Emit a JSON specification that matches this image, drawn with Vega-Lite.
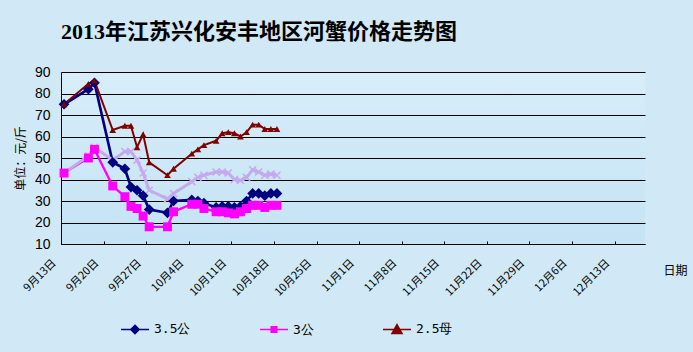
{
  "$schema": "https://vega.github.io/schema/vega-lite/v6.json",
  "width": 584,
  "height": 172,
  "autosize": "none",
  "padding": {"left": 61, "top": 72, "right": 48, "bottom": 108},
  "background": "#D1E9F7",
  "title": {
    "text": "2013年江苏兴化安丰地区河蟹价格走势图",
    "anchor": "start",
    "frame": "group",
    "font": "Liberation Serif, Noto Sans CJK SC",
    "fontSize": 22,
    "fontWeight": "bold",
    "color": "black",
    "baseline": "alphabetic",
    "offset": 4
  },
  "config": {
    "view": {"stroke": null, "fill": {"gradient": "linear", "x1": 0, "y1": 0, "x2": 0, "y2": 1, "stops": [{"offset": 0, "color": "#D8EDF9"}, {"offset": 1, "color": "#C4E3F4"}]}}
  },
  "data": {
    "values": [
      {"date": "2013-09-13", "series": "3.5公", "value": 75},
      {"date": "2013-09-17", "series": "3.5公", "value": 82},
      {"date": "2013-09-18", "series": "3.5公", "value": 85},
      {"date": "2013-09-21", "series": "3.5公", "value": 48},
      {"date": "2013-09-23", "series": "3.5公", "value": 45},
      {"date": "2013-09-24", "series": "3.5公", "value": 36.5},
      {"date": "2013-09-25", "series": "3.5公", "value": 35},
      {"date": "2013-09-26", "series": "3.5公", "value": 32.5},
      {"date": "2013-09-27", "series": "3.5公", "value": 26},
      {"date": "2013-09-30", "series": "3.5公", "value": 24.5},
      {"date": "2013-10-01", "series": "3.5公", "value": 30},
      {"date": "2013-10-04", "series": "3.5公", "value": 30.5},
      {"date": "2013-10-05", "series": "3.5公", "value": 30},
      {"date": "2013-10-06", "series": "3.5公", "value": 29},
      {"date": "2013-10-08", "series": "3.5公", "value": 27},
      {"date": "2013-10-09", "series": "3.5公", "value": 27.5},
      {"date": "2013-10-10", "series": "3.5公", "value": 27.5},
      {"date": "2013-10-11", "series": "3.5公", "value": 27},
      {"date": "2013-10-12", "series": "3.5公", "value": 27.5},
      {"date": "2013-10-13", "series": "3.5公", "value": 30},
      {"date": "2013-10-14", "series": "3.5公", "value": 33.5},
      {"date": "2013-10-15", "series": "3.5公", "value": 33.5},
      {"date": "2013-10-16", "series": "3.5公", "value": 32.5},
      {"date": "2013-10-17", "series": "3.5公", "value": 33.5},
      {"date": "2013-10-18", "series": "3.5公", "value": 33.5},

      {"date": "2013-09-13", "series": "3公", "value": 43},
      {"date": "2013-09-17", "series": "3公", "value": 50},
      {"date": "2013-09-18", "series": "3公", "value": 54},
      {"date": "2013-09-21", "series": "3公", "value": 37},
      {"date": "2013-09-23", "series": "3公", "value": 32},
      {"date": "2013-09-24", "series": "3公", "value": 27.5},
      {"date": "2013-09-25", "series": "3公", "value": 26.5},
      {"date": "2013-09-26", "series": "3公", "value": 23},
      {"date": "2013-09-27", "series": "3公", "value": 18},
      {"date": "2013-09-30", "series": "3公", "value": 18},
      {"date": "2013-10-01", "series": "3公", "value": 25},
      {"date": "2013-10-04", "series": "3公", "value": 28.5},
      {"date": "2013-10-05", "series": "3公", "value": 28.5},
      {"date": "2013-10-06", "series": "3公", "value": 26.5},
      {"date": "2013-10-08", "series": "3公", "value": 25},
      {"date": "2013-10-09", "series": "3公", "value": 25},
      {"date": "2013-10-10", "series": "3公", "value": 24.5},
      {"date": "2013-10-11", "series": "3公", "value": 24},
      {"date": "2013-10-12", "series": "3公", "value": 25},
      {"date": "2013-10-13", "series": "3公", "value": 26.5},
      {"date": "2013-10-14", "series": "3公", "value": 28},
      {"date": "2013-10-15", "series": "3公", "value": 28},
      {"date": "2013-10-16", "series": "3公", "value": 27},
      {"date": "2013-10-17", "series": "3公", "value": 28},
      {"date": "2013-10-18", "series": "3公", "value": 28},

      {"date": "2013-09-13", "series": "2.5母", "value": 75},
      {"date": "2013-09-17", "series": "2.5母", "value": 84.5},
      {"date": "2013-09-18", "series": "2.5母", "value": 86},
      {"date": "2013-09-21", "series": "2.5母", "value": 63},
      {"date": "2013-09-23", "series": "2.5母", "value": 65},
      {"date": "2013-09-24", "series": "2.5母", "value": 65},
      {"date": "2013-09-25", "series": "2.5母", "value": 55},
      {"date": "2013-09-26", "series": "2.5母", "value": 61},
      {"date": "2013-09-27", "series": "2.5母", "value": 48},
      {"date": "2013-09-30", "series": "2.5母", "value": 42},
      {"date": "2013-10-01", "series": "2.5母", "value": 45},
      {"date": "2013-10-04", "series": "2.5母", "value": 52},
      {"date": "2013-10-05", "series": "2.5母", "value": 54},
      {"date": "2013-10-06", "series": "2.5母", "value": 56},
      {"date": "2013-10-08", "series": "2.5母", "value": 58},
      {"date": "2013-10-09", "series": "2.5母", "value": 61.5},
      {"date": "2013-10-10", "series": "2.5母", "value": 62},
      {"date": "2013-10-11", "series": "2.5母", "value": 61.5},
      {"date": "2013-10-12", "series": "2.5母", "value": 60},
      {"date": "2013-10-13", "series": "2.5母", "value": 62},
      {"date": "2013-10-14", "series": "2.5母", "value": 65.5},
      {"date": "2013-10-15", "series": "2.5母", "value": 65.5},
      {"date": "2013-10-16", "series": "2.5母", "value": 63.5},
      {"date": "2013-10-17", "series": "2.5母", "value": 63.5},
      {"date": "2013-10-18", "series": "2.5母", "value": 63.5},

      {"date": "2013-09-13", "series": "其他", "value": 43},
      {"date": "2013-09-17", "series": "其他", "value": 51},
      {"date": "2013-09-18", "series": "其他", "value": 55},
      {"date": "2013-09-21", "series": "其他", "value": 49},
      {"date": "2013-09-23", "series": "其他", "value": 53},
      {"date": "2013-09-24", "series": "其他", "value": 53},
      {"date": "2013-09-25", "series": "其他", "value": 49},
      {"date": "2013-09-26", "series": "其他", "value": 43},
      {"date": "2013-09-27", "series": "其他", "value": 35},
      {"date": "2013-09-30", "series": "其他", "value": 31},
      {"date": "2013-10-01", "series": "其他", "value": 33.5},
      {"date": "2013-10-04", "series": "其他", "value": 39},
      {"date": "2013-10-05", "series": "其他", "value": 41},
      {"date": "2013-10-06", "series": "其他", "value": 42},
      {"date": "2013-10-08", "series": "其他", "value": 43.5},
      {"date": "2013-10-09", "series": "其他", "value": 43.5},
      {"date": "2013-10-10", "series": "其他", "value": 43},
      {"date": "2013-10-11", "series": "其他", "value": 40},
      {"date": "2013-10-12", "series": "其他", "value": 39.5},
      {"date": "2013-10-13", "series": "其他", "value": 41},
      {"date": "2013-10-14", "series": "其他", "value": 44.5},
      {"date": "2013-10-15", "series": "其他", "value": 43.5},
      {"date": "2013-10-16", "series": "其他", "value": 42},
      {"date": "2013-10-17", "series": "其他", "value": 42.5},
      {"date": "2013-10-18", "series": "其他", "value": 42}
    ]
  },
  "encoding": {
    "x": {
      "field": "date",
      "type": "temporal",
      "timeUnit": "utcyearmonthdate",
      "bandPosition": 0.5,
      "scale": {"domain": [{"year": 2013, "month": 9, "date": 13, "utc": true}, {"year": 2013, "month": 12, "date": 18, "utc": true}]},
      "axis": {
        "values": [
          {"year": 2013, "month": 9, "date": 13, "utc": true},
          {"year": 2013, "month": 9, "date": 20, "utc": true},
          {"year": 2013, "month": 9, "date": 27, "utc": true},
          {"year": 2013, "month": 10, "date": 4, "utc": true},
          {"year": 2013, "month": 10, "date": 11, "utc": true},
          {"year": 2013, "month": 10, "date": 18, "utc": true},
          {"year": 2013, "month": 10, "date": 25, "utc": true},
          {"year": 2013, "month": 11, "date": 1, "utc": true},
          {"year": 2013, "month": 11, "date": 8, "utc": true},
          {"year": 2013, "month": 11, "date": 15, "utc": true},
          {"year": 2013, "month": 11, "date": 22, "utc": true},
          {"year": 2013, "month": 11, "date": 29, "utc": true},
          {"year": 2013, "month": 12, "date": 6, "utc": true},
          {"year": 2013, "month": 12, "date": 13, "utc": true}
        ],
        "labelExpr": "utcFormat(datum.value, '%-m月%-d日')",
        "labelAngle": -45,
        "labelAlign": "right",
        "labelBaseline": "middle",
        "labelFont": "Noto Sans CJK SC",
        "labelFontSize": 11,
        "labelColor": "black",
        "labelPadding": 20,
        "labelOffset": -7,
        "labelFlush": false,
        "labelOverlap": false,
        "labelBound": false,
        "tickSize": -3,
        "tickColor": "black",
        "domainColor": "black",
        "grid": false,
        "title": "日期",
        "titleX": 614,
        "titleY": 26,
        "titleAngle": 0,
        "titleAlign": "center",
        "titleBaseline": "middle",
        "titleFont": "Noto Sans CJK SC",
        "titleFontSize": 12,
        "titleFontWeight": "normal",
        "titleColor": "black"
      }
    },
    "y": {
      "field": "value",
      "type": "quantitative",
      "scale": {"domain": [10, 90], "nice": false, "zero": false},
      "axis": {
        "values": [10, 20, 30, 40, 50, 60, 70, 80, 90],
        "grid": true,
        "gridColor": "black",
        "gridOpacity": 1,
        "gridWidth": 1,
        "ticks": false,
        "domainColor": "black",
        "labelFont": "Liberation Sans",
        "labelFontSize": 14,
        "labelColor": "black",
        "labelPadding": 11,
        "labelFlush": false,
        "title": "单位：元/斤",
        "titleFont": "Noto Sans CJK SC",
        "titleFontSize": 12,
        "titleFontWeight": "normal",
        "titleColor": "black",
        "titleX": -41,
        "titleY": 86,
        "titleAngle": -90,
        "titleAlign": "center",
        "titleBaseline": "middle"
      }
    }
  },
  "layer": [
    {
      "mark": {"type": "line", "interpolate": "linear"},
      "encoding": {
        "color": {"field": "series", "type": "nominal", "scale": {"domain": ["其他", "3.5公", "3公", "2.5母"], "range": ["#C5A9EF", "#000080", "#FF00FF", "#800000"]}, "legend": null},
        "strokeWidth": {"field": "series", "type": "nominal", "scale": {"domain": ["其他", "3.5公", "3公", "2.5母"], "range": [3, 2, 1, 2]}, "legend": null}
      }
    },
    {
      "transform": [{"filter": "datum.series === '其他'"}],
      "mark": {"type": "point", "shape": "M-1,-1L1,1M-1,1L1,-1", "size": 49, "strokeWidth": 1.5, "color": "#C5A9EF", "filled": false, "opacity": 1}
    },
    {
      "transform": [{"filter": "datum.series !== '其他'"}],
      "mark": {"type": "point", "filled": true, "opacity": 1},
      "encoding": {
        "color": {"field": "series", "type": "nominal", "scale": {"domain": ["3.5公", "3公", "2.5母"], "range": ["#000080", "#FF00FF", "#800000"]}, "legend": null},
        "shape": {"field": "series", "type": "nominal", "scale": {"domain": ["3.5公", "3公", "2.5母"], "range": ["diamond", "square", "triangle-up"]}, "legend": null},
        "size": {"field": "series", "type": "nominal", "scale": {"domain": ["3.5公", "3公", "2.5母"], "range": [115, 45, 140]}, "legend": null}
      }
    },
    {
      "transform": [{"filter": "false"}],
      "mark": {"type": "point", "filled": true, "opacity": 1, "strokeWidth": 1.5},
      "encoding": {
        "fill": {"field": "series", "type": "nominal", "scale": {"domain": ["3.5公", "3公", "2.5母"], "range": ["#000080", "#FF00FF", "#800000"]},
          "legend": {"orient": "none", "legendX": 59, "legendY": 242, "direction": "horizontal", "title": null, "symbolSize": 784, "symbolStrokeWidth": 1.5, "labelFont": "DejaVu Sans Mono", "labelFontSize": 13, "labelColor": "black", "columnPadding": 66, "labelOffset": 4, "padding": 0}},
        "stroke": {"field": "series", "type": "nominal", "scale": {"domain": ["3.5公", "3公", "2.5母"], "range": ["#000080", "#FF00FF", "#800000"]},
          "legend": {"orient": "none", "legendX": 59, "legendY": 242, "direction": "horizontal", "title": null, "symbolSize": 784, "symbolStrokeWidth": 1.5, "labelFont": "DejaVu Sans Mono", "labelFontSize": 13, "labelColor": "black", "columnPadding": 66, "labelOffset": 4, "padding": 0}},
        "shape": {"field": "series", "type": "nominal", "scale": {"domain": ["3.5公", "3公", "2.5母"], "range": ["M-1,0H1M0,-0.3L0.3,0L0,0.3L-0.3,0Z", "M-1,0H1M-0.2,-0.2H0.2V0.2H-0.2Z", "M-1,0H1M0,-0.34L0.36,0.3H-0.36Z"]},
          "legend": {"orient": "none", "legendX": 59, "legendY": 242, "direction": "horizontal", "title": null, "symbolSize": 784, "symbolStrokeWidth": 1.5, "labelFont": "DejaVu Sans Mono", "labelFontSize": 13, "labelColor": "black", "columnPadding": 66, "labelOffset": 4, "padding": 0}}
      }
    }
  ],
  "resolve": {"scale": {"color": "independent", "shape": "independent", "size": "independent", "fill": "independent", "stroke": "independent", "strokeWidth": "independent"}}
}
